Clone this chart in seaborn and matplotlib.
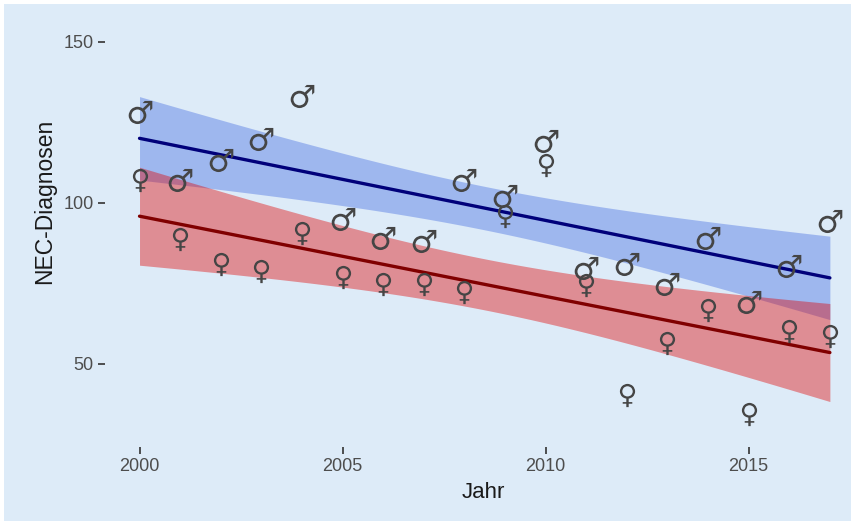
import numpy as np
import pandas as pd
import matplotlib
matplotlib.use("Agg")
import matplotlib.pyplot as plt
from matplotlib.patches import Rectangle
from matplotlib.textpath import TextPath
from matplotlib.font_manager import FontProperties
from matplotlib.path import Path
import seaborn as sns

# ---- data ----
years = list(range(2000, 2018))
male = [128.4, 107.1, 113.2, 120.0, 133.2, 94.9, 89.2, 88.1, 107.1,
        102.1, 119.2, 79.9, 80.9, 74.9, 89.2, 69.3, 80.4, 94.3]
female = [107.0, 88.9, 80.9, 78.8, 90.6, 77.0, 74.9, 74.7, 72.5,
          95.9, 111.9, 74.6, 40.5, 56.6, 66.8, 34.5, 60.4, 58.6]
x_ticks = [2000, 2005, 2010, 2015]
y_ticks = [50, 100, 150]
x_label = "Jahr"
y_label = "NEC-Diagnosen"

BG = "#DDEBF8"

sns.set_theme(style="white")
plt.rcParams['font.family'] = ['Liberation Sans', 'DejaVu Sans']

W, H = 855, 525
fig = plt.figure(figsize=(W / 100, H / 100), dpi=100, facecolor="white")
fig.patches.append(Rectangle((4 / W, 4 / H), (W - 8) / W, (H - 8) / H,
                             transform=fig.transFigure, facecolor=BG,
                             edgecolor="none", zorder=-10))
ax = fig.add_axes([105 / W, 78 / H, 746 / W, 443 / H])
ax.set_facecolor(BG)
for s in ax.spines.values():
    s.set_visible(False)
ax.grid(False)


def glyph_marker(ch):
    tp = TextPath((0, 0), ch, size=100,
                  prop=FontProperties(family="DejaVu Sans"))
    ext = tp.get_extents()
    c = np.array([(ext.x0 + ext.x1) / 2, (ext.y0 + ext.y1) / 2])
    v = tp.vertices.copy() - c
    codes = tp.codes
    v[codes == Path.CLOSEPOLY] = 0.0
    return Path(v, codes)


def lm_fit(x, y):
    x = np.asarray(x, float)
    y = np.asarray(y, float)
    n = len(x)
    b1, b0 = np.polyfit(x, y, 1)
    resid = y - (b0 + b1 * x)
    s = np.sqrt(np.sum(resid ** 2) / (n - 2))
    xs = np.linspace(x.min(), x.max(), 200)
    pred = b0 + b1 * xs
    sxx = np.sum((x - x.mean()) ** 2)
    se = s * np.sqrt(1 / n + (xs - x.mean()) ** 2 / sxx)
    t = 2.1199  # t(0.975, df=16)
    return xs, pred, pred - t * se, pred + t * se


xs_m, p_m, lo_m, hi_m = lm_fit(years, male)
xs_f, p_f, lo_f, hi_f = lm_fit(years, female)

ax.fill_between(xs_m, lo_m, hi_m, color="#4169E1", alpha=0.4, lw=0, zorder=1)
ax.fill_between(xs_f, lo_f, hi_f, color="#E00000", alpha=0.4, lw=0, zorder=2)
sns.lineplot(x=xs_m, y=p_m, color="#00007A", lw=2.4, ax=ax, zorder=3)
sns.lineplot(x=xs_f, y=p_f, color="#800000", lw=2.4, ax=ax, zorder=3)

df_m = pd.DataFrame({"Jahr": years, "n": male})
df_f = pd.DataFrame({"Jahr": years, "n": female})
sns.scatterplot(data=df_m, x="Jahr", y="n", marker=glyph_marker("\u2642"),
                s=290, color="#454545", linewidth=0, ax=ax, zorder=5)
sns.scatterplot(data=df_f, x="Jahr", y="n", marker=glyph_marker("\u2640"),
                s=280, color="#454545", linewidth=0, ax=ax, zorder=5)

ax.set_xlim(1999.15, 2017.52)
ax.set_ylim(24.22, 161.8)
ax.set_xticks(x_ticks)
ax.set_yticks(y_ticks)
ax.tick_params(bottom=True, left=True, length=5, width=1.2, color="#333333",
               labelcolor="#4D4D4D", labelsize=13, pad=3)
ax.set_xlabel("")
ax.set_ylabel("")

fig.text(483 / W, 1 - 492 / H, x_label, ha="center", va="center",
         fontsize=16, color="#1A1A1A")
fig.text(45 / W, 1 - 201 / H, y_label, ha="center", va="center",
         rotation=90, fontsize=16.5, color="#1A1A1A")

fig.savefig("out.png", dpi=100, facecolor="white")
